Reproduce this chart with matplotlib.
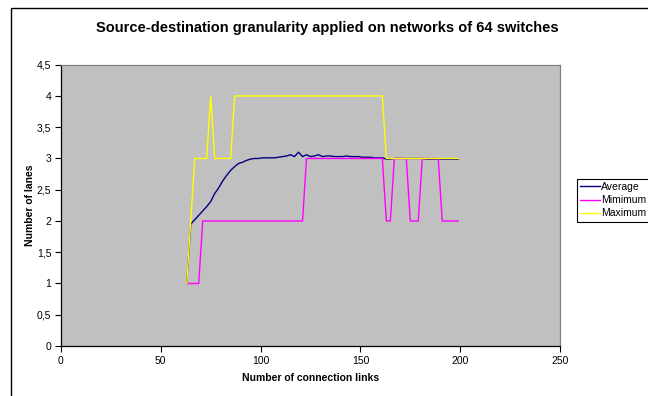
import matplotlib
matplotlib.use("Agg")
import matplotlib.pyplot as plt
from matplotlib.patches import Rectangle
from matplotlib.ticker import FuncFormatter, MultipleLocator

plt.rcParams['font.family'] = ['Liberation Sans', 'DejaVu Sans']

links = list(range(63, 200, 2))

average = [1.00, 1.95, 2.02, 2.09, 2.16, 2.23, 2.31, 2.44, 2.53, 2.64, 2.73,
           2.81, 2.87, 2.92, 2.94, 2.97, 2.99, 3.00, 3.00, 3.01, 3.01, 3.01,
           3.01, 3.02, 3.03, 3.04, 3.06, 3.03, 3.10, 3.03, 3.06, 3.03, 3.04,
           3.06, 3.03, 3.04, 3.04, 3.03, 3.03, 3.03, 3.04, 3.03, 3.03, 3.03,
           3.02, 3.02, 3.02, 3.01, 3.01, 3.01, 2.99, 2.99, 3.00, 3.00, 3.00,
           3.00, 3.00, 3.00, 3.00, 3.00, 2.99, 2.99, 2.99, 2.99, 2.99, 2.99,
           2.99, 2.99, 2.99]

minimum = [1, 1, 1, 1, 2, 2, 2, 2, 2, 2, 2, 2, 2, 2, 2, 2, 2, 2, 2, 2, 2, 2,
           2, 2, 2, 2, 2, 2, 2, 2, 3, 3, 3, 3, 3, 3, 3, 3, 3, 3, 3, 3, 3, 3,
           3, 3, 3, 3, 3, 3, 2, 2, 3, 3, 3, 3, 2, 2, 2, 3, 3, 3, 3, 3, 2, 2,
           2, 2, 2]

maximum = [1, 2, 3, 3, 3, 3, 4, 3, 3, 3, 3, 3, 4, 4, 4, 4, 4, 4, 4, 4, 4, 4,
           4, 4, 4, 4, 4, 4, 4, 4, 4, 4, 4, 4, 4, 4, 4, 4, 4, 4, 4, 4, 4, 4,
           4, 4, 4, 4, 4, 4, 3, 3, 3, 3, 3, 3, 3, 3, 3, 3, 3, 3, 3, 3, 3, 3,
           3, 3, 3]

labels = ["Average", "Mimimum", "Maximum"]
colors = ["#000080", "#FF00FF", "#FFFF00"]

W, H = 648, 396
fig = plt.figure(figsize=(W / 100, H / 100), dpi=100)
fig.patch.set_facecolor("white")

ax = fig.add_axes([61 / W, 1 - 346 / H, (560 - 61) / W, (346 - 64.7) / H])
ax.set_facecolor("#C0C0C0")

for ys, lab, col in zip([average, minimum, maximum], labels, colors):
    ax.plot(links, ys, color=col, lw=1.0, label=lab)

ax.set_xlim(0, 250)
ax.set_ylim(0, 4.5)
ax.xaxis.set_major_locator(MultipleLocator(50))
ax.yaxis.set_major_locator(MultipleLocator(0.5))
ax.yaxis.set_major_formatter(FuncFormatter(
    lambda v, p: ("%g" % v).replace(".", ",")))
ax.tick_params(axis="both", direction="out", length=4, width=0.8,
               labelsize=7.5, color="black", pad=3)
for s in ["left", "bottom"]:
    ax.spines[s].set_color("black")
    ax.spines[s].set_linewidth(0.9)
for s in ["top", "right"]:
    ax.spines[s].set_color("#808080")
    ax.spines[s].set_linewidth(0.9)

ax.set_xlabel("Number of connection links", fontsize=7.5, fontweight="bold",
              labelpad=5)
ax.set_ylabel("Number of lanes", fontsize=7.5, fontweight="bold", labelpad=1)

fig.text(327 / W, 1 - 28 / H,
         "Source-destination granularity applied on networks of 64 switches",
         ha="center", va="center", fontsize=10.5, fontweight="bold")

leg = fig.legend(loc="upper left", bbox_to_anchor=(577 / W, 1 - 179 / H),
                 fontsize=7.5, frameon=True, fancybox=False, framealpha=1,
                 edgecolor="black", handlelength=1.9, handletextpad=0.15,
                 labelspacing=0.3, borderpad=0.3, borderaxespad=0)
leg.get_frame().set_linewidth(0.8)

frame = Rectangle((11 / W, -0.2), 1.2, 1 - 8 / H + 0.2,
                  transform=fig.transFigure, fill=False, edgecolor="black",
                  lw=1.0, clip_on=False)
fig.patches.append(frame)

fig.savefig("out.png", dpi=100)
